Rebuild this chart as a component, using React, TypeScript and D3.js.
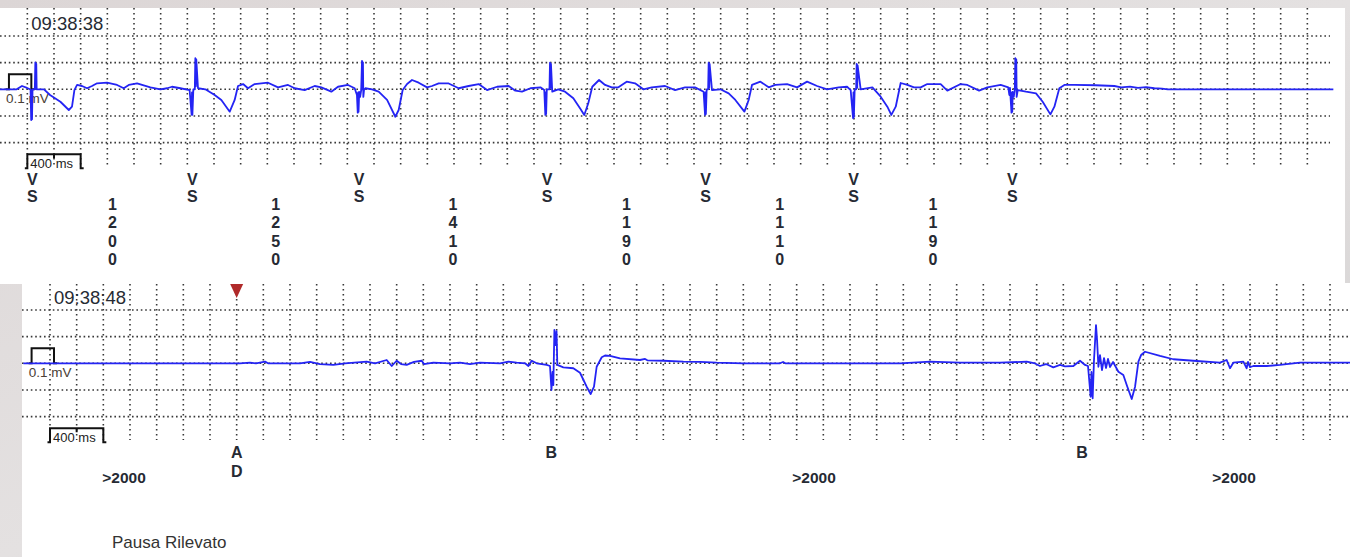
import React from 'react';
import * as d3 from 'd3';

const W = 1350;
const H = 557;

// ---- Top strip: ventricular sensed beats and their RR intervals (ms) ----
const topStamp = '09:38:38';
const firstBeatMs = 260;
const rrIntervals = [1200, 1250, 1410, 1190, 1110, 1190];
const beatMarker = 'VS';

// Each beat: [ms relative to the beat, mV]
const beat1: [number, number][] = [
  [-265, 0], [-140, 0], [-100, 0.022], [-62, 0.009], [-40, 0], [-36, 0], [-31, -0.205], [-28, -0.01],
  [-25, -0.2], [-21, 0], [-4, 0], [0, 0.18], [4, 0.01], [7, 0.17], [10, 0], [65, 0], [110, -0.038],
  [188, -0.083], [251, -0.138], [275, -0.116], [293, -0.005], [313, 0.029], [350, 0.022], [388, 0.007],
  [425, 0.022], [463, 0.04], [538, 0.044], [613, 0.029], [663, 0.007], [701, 0.029], [763, 0.04],
  [863, 0.013], [938, 0], [988, 0.007], [1025, 0.017], [1088, 0.007],
];
const beat2: [number, number][] = [
  [-43, -0.005], [-28, -0.17], [-25, -0.02], [-22, -0.17], [-15, 0], [-4, 0], [0, 0.207], [4, 0.02],
  [7, 0.2], [20, 0.007], [75, 0], [145, -0.038], [195, -0.071], [258, -0.149], [295, -0.071],
  [320, 0.022], [358, 0.035], [395, 0.007], [445, 0.035], [545, 0.044], [620, 0.013], [695, 0.029],
  [745, 0.007], [820, -0.005], [895, 0.022], [945, 0.013], [1020, -0.016], [1070, 0.017],
  [1145, 0.029], [1195, 0.007],
];
const beat3: [number, number][] = [
  [-38, -0.038], [-32, -0.156], [-29, -0.02], [-26, -0.15], [-21, -0.018], [-14, -0.051], [-6, -0.005],
  [0, 0.189], [4, 0.0], [7, 0.18], [10, -0.051], [15, -0.005], [25, 0.007], [75, 0], [125, -0.016],
  [188, -0.071], [250, -0.183], [275, -0.138], [305, -0.005], [338, 0.035], [375, 0.062], [425, 0.044],
  [488, 0.013], [525, 0.022], [575, 0.04], [650, 0.039], [725, 0.007], [800, 0.022], [875, 0.035],
  [938, -0.005], [1013, 0.017], [1100, 0.022], [1150, -0.009], [1200, -0.016], [1263, 0.007],
  [1338, 0.013],
];
const beat4: [number, number][] = [
  [-43, -0.005], [-35, -0.171], [-32, -0.02], [-29, -0.165], [-24, 0], [-4, 0], [0, 0.177], [4, 0.01],
  [7, 0.17], [17, -0.016], [62, 0], [113, -0.016], [175, -0.06], [225, -0.127], [257, -0.171],
  [287, -0.093], [317, 0.017], [368, 0.062], [413, 0.029], [463, 0.013], [513, 0.013], [575, 0.051],
  [638, 0.04], [700, 0], [763, 0.013], [863, 0.022], [938, -0.005], [1013, 0.013], [1088, 0.013],
];
const beat5: [number, number][] = [
  [-38, -0.016], [-27, -0.171], [-24, -0.02], [-21, -0.165], [-15, 0], [-4, 0], [0, 0.177], [4, 0.01],
  [7, 0.17], [25, -0.005], [88, 0], [150, -0.027], [200, -0.071], [268, -0.149], [300, -0.071],
  [325, 0.029], [388, 0.051], [450, 0.013], [500, 0.029], [588, 0.035], [663, 0.013], [738, 0.051],
  [813, 0.022], [888, 0], [975, 0.013], [1038, 0.017],
];
const beat6: [number, number][] = [
  [-45, -0.005], [-27, -0.193], [-24, -0.02], [-21, -0.185], [-15, 0], [-4, 0], [0, 0.169], [4, 0.01],
  [7, 0.16], [30, 0], [118, 0.013], [180, -0.049], [230, -0.116], [260, -0.171], [293, -0.116],
  [330, 0.042], [380, 0.029], [430, 0.013], [480, 0.013], [530, 0.035], [630, 0.035], [680, -0.009],
  [780, 0.035], [830, 0.029], [918, -0.009], [980, 0.013], [1080, 0.029],
];
const beat7: [number, number][] = [
  [-53, 0.013], [-45, -0.038], [-40, 0.009], [-29, -0.156], [-26, -0.02], [-23, -0.15], [-20, -0.018],
  [-12, -0.051], [-4, 0], [0, 0.207], [4, 0.01], [7, 0.2], [10, -0.051], [18, -0.005], [80, -0.016],
  [155, -0.027], [205, -0.083], [263, -0.167], [293, -0.116], [330, 0.007], [368, 0.029], [443, 0.029],
  [600, 0.027], [743, 0.022], [793, 0.013], [860, 0.018], [920, 0.01], [980, 0.014], [1043, 0.007],
  [1100, 0.004], [1143, 0], [2385, 0],
];
const beatTraces = [beat1, beat2, beat3, beat4, beat5, beat6, beat7];

// ---- Bottom strip: pause episode ----
const bottomStamp = '09:38:48';
const bottomTrace: [number, number][] = [
  [0, 0], [1625, 0], [1700, 0.004], [1745, 0], [1813, 0.011], [1835, 0], [2075, 0], [2150, 0.009],
  [2225, -0.005], [2325, -0.011], [2413, 0], [2575, 0.011], [2638, 0], [2725, 0.022], [2763, -0.018],
  [2800, 0.017], [2833, -0.005], [2875, -0.011], [2930, 0.009], [2988, 0.017], [3005, -0.005],
  [3075, 0.004], [3200, 0], [3275, 0.004], [3350, -0.005], [3425, 0.004], [3575, 0], [3638, 0.011],
  [3700, 0.004], [3763, 0], [3788, -0.018], [3813, 0.017], [3850, 0], [3925, -0.011], [3950, -0.018],
  [3961, -0.178], [3969, -0.058], [3975, -0.145], [3983, 0.222], [3992, 0.122], [3999, 0.215],
  [4005, -0.011], [4050, -0.027], [4125, -0.033], [4175, -0.063], [4225, -0.156], [4255, -0.205],
  [4280, -0.156], [4300, -0.023], [4338, 0.04], [4363, 0.052], [4400, 0.049], [4475, 0.033],
  [4625, 0.022], [4663, 0.029], [4680, 0.02], [4800, 0.017], [4950, 0.011], [5075, 0.009],
  [5200, 0.004], [5400, 0], [5675, 0], [5698, 0.009], [5715, 0], [6575, 0], [6800, 0.011],
  [7025, 0.005], [7325, 0.004], [7525, 0.011], [7588, -0.001], [7625, -0.018], [7670, -0.005],
  [7725, -0.027], [7775, -0.011], [7813, -0.021], [7875, -0.018], [7925, 0.017], [7963, -0.011],
  [7985, -0.018], [8005, -0.223], [8011, -0.058], [8020, -0.233], [8030, 0.022], [8045, 0.255],
  [8053, 0.155], [8063, -0.023], [8075, 0.055], [8090, -0.045], [8105, 0.035], [8120, -0.031],
  [8135, 0.029], [8150, -0.025], [8173, 0.009], [8213, -0.056], [8250, -0.078], [8278, -0.151],
  [8313, -0.238], [8338, -0.156], [8363, 0.011], [8383, 0.055], [8413, 0.077], [8525, 0.049],
  [8625, 0.027], [8775, 0.017], [8975, 0.004], [9025, 0.022], [9050, -0.033], [9075, 0.004],
  [9150, 0.011], [9175, -0.033], [9185, 0.009], [9200, -0.025], [9225, -0.018], [9325, -0.018],
  [9425, -0.011], [9575, 0.004], [9950, 0.004],
];
const eventTimes = [1600, 3960, 7940];
const eventLabels = ['AD', 'B', 'B'];
const flaggedEvent = 1600;
const pauseTimes = [755, 5930, 9080];
const pauseLabel = '>2000';
const footer = 'Pausa Rilevato';

// ---- Recording settings ----
const calibrationMv = 0.1;
const calibrationStartMs = 62;
const calibrationWidthMs = 168;
const scaleBarStartMs = 200;
const scaleBarMs = 400;
const gridStepMs = 200;
const gridTimes = d3.range(200, 9801, gridStepMs);

const MS_PER_PX = 7.5;
const PX_PER_MV = 150;
const FONT = "'Liberation Sans', Arial, Helvetica, sans-serif";
const TRACE = '#2424f4';
const DOT = '#383838';
const TEXT = '#262a33';

type Cfg = {
  x: d3.ScaleLinear<number, number>;
  y: d3.ScaleLinear<number, number>;
  vTop: number;
  vBottom: number;
  hLeft: number;
  hRight: number;
  stamp: string;
};

function makeX(origin: number) {
  return d3.scaleLinear().domain([0, 10000]).range([origin, origin + 10000 / MS_PER_PX]);
}
function makeY(base: number) {
  return d3.scaleLinear().domain([-0.2, 0.2]).range([base + 0.2 * PX_PER_MV, base - 0.2 * PX_PER_MV]);
}

function StripFrame({ x, y, vTop, vBottom, hLeft, hRight, stamp }: Cfg) {
  const base = y(0);
  const gridPx = x(gridStepMs) - x(0);
  const hLines = [-2, -1, 0, 1, 2].map((k) => base + k * gridPx);
  const c0 = x(calibrationStartMs);
  const c1 = x(calibrationStartMs + calibrationWidthMs);
  const cy = y(calibrationMv);
  const b0 = x(scaleBarStartMs);
  const b1 = x(scaleBarStartMs + scaleBarMs);
  const bm = x(scaleBarStartMs + scaleBarMs / 2);
  const barTop = base + 65;
  const barBottom = base + 79;
  return (
    <g>
      {gridTimes.map((t) => (
        <line key={'v' + t} x1={x(t)} x2={x(t)} y1={vTop} y2={vBottom}
          stroke={DOT} strokeWidth={1.6} strokeDasharray="1.6 3.4" />
      ))}
      {hLines.map((hy, i) => (
        <line key={'h' + i} x1={hLeft} x2={hRight} y1={hy} y2={hy}
          stroke={DOT} strokeWidth={1.6} strokeDasharray="1.6 2.8" />
      ))}
      <text x={x(scaleBarStartMs) + 4} y={base - 59} fontFamily={FONT} fontSize={18.5} fill={TEXT}>{stamp}</text>
      <path d={`M${c0 - 3},${base} H${c0} V${cy} H${c1} V${base} H${c1 + 3}`}
        fill="none" stroke="#111" strokeWidth={2} />
      <text x={x(40)} y={base + 14} fontFamily={FONT} fontSize={13.5} fill="#4a3e36">0.1 mV</text>
      <path d={`M${b0 - 2.5},${barBottom} H${b0} V${barTop} H${b1} V${barBottom} H${b1 + 3} M${bm},${barTop} V${barTop + 4}`}
        fill="none" stroke="#111" strokeWidth={2} />
      <text x={b0 + 3} y={base + 78.5} fontFamily={FONT} fontSize={13} fill="#222">{scaleBarMs} ms</text>
    </g>
  );
}

function Stacked({ text, x, y, lh, size = 16 }: { text: string; x: number; y: number; lh: number; size?: number }) {
  return (
    <g>
      {text.split('').map((c, i) => (
        <text key={i} x={x} y={y + i * lh} textAnchor="middle" fontFamily={FONT}
          fontWeight="bold" fontSize={size} fill={TEXT}>{c}</text>
      ))}
    </g>
  );
}

export default function App() {
  const xTop = makeX(0.67);
  const yTop = makeY(89.3);
  const xBot = makeX(23.33);
  const yBot = makeY(363.3);

  const beatTimes = rrIntervals.reduce<number[]>((acc, rr) => [...acc, acc[acc.length - 1] + rr], [firstBeatMs]);

  const topPoints: [number, number][] = [];
  beatTraces.forEach((pts, i) => {
    pts.forEach(([dt, v]) => topPoints.push([beatTimes[i] + dt, v]));
  });

  const topLine = d3.line<[number, number]>().x((d) => xTop(d[0])).y((d) => yTop(d[1]));
  const botLine = d3.line<[number, number]>().x((d) => xBot(d[0])).y((d) => yBot(d[1]));

  const labelDx = -3;

  return (
    <svg width={W} height={H} viewBox={`0 0 ${W} ${H}`}
      style={{ position: 'absolute', left: 0, top: 0, display: 'block' }}>
      <defs>
        <linearGradient id="edge" x1="0" y1="0" x2="1" y2="1">
          <stop offset="0" stopColor="#dcd6d6" />
          <stop offset="0.5" stopColor="#e4e1e1" />
          <stop offset="1" stopColor="#d2d0d0" />
        </linearGradient>
      </defs>
      <rect width={W} height={H} fill="url(#edge)" />
      <rect x={0} y={8} width={1345} height={276} fill="#ffffff" />
      <rect x={22} y={283} width={W - 22} height={H - 283} fill="#ffffff" />

      {/* top strip */}
      <StripFrame x={xTop} y={yTop} vTop={8} vBottom={165} hLeft={0} hRight={1330} stamp={topStamp} />
      <path d={topLine(topPoints) ?? ''} fill="none" stroke={TRACE} strokeWidth={1.8} strokeLinejoin="round" />
      {beatTimes.map((t, i) => (
        <Stacked key={'vs' + i} text={beatMarker} x={xTop(t) + labelDx} y={184.5} lh={17.5} />
      ))}
      {rrIntervals.map((rr, i) => (
        <Stacked key={'rr' + i} text={String(rr)} x={xTop((beatTimes[i] + beatTimes[i + 1]) / 2) + labelDx}
          y={210} lh={18.3} />
      ))}

      {/* bottom strip */}
      <StripFrame x={xBot} y={yBot} vTop={284} vBottom={440} hLeft={22} hRight={W} stamp={bottomStamp} />
      <path d={botLine(bottomTrace) ?? ''} fill="none" stroke={TRACE} strokeWidth={1.8} strokeLinejoin="round" />
      <path d={`M${xBot(flaggedEvent) - 6.5},284 H${xBot(flaggedEvent) + 6.5} L${xBot(flaggedEvent)},298 Z`} fill="#b02a2a" />
      {eventTimes.map((t, i) => (
        <Stacked key={'ev' + i} text={eventLabels[i]} x={xBot(t)} y={458.3} lh={18.4} />
      ))}
      {pauseTimes.map((t, i) => (
        <text key={'p' + i} x={xBot(t)} y={483.3} textAnchor="middle" fontFamily={FONT}
          fontWeight="bold" fontSize={15.5} fill={TEXT}>{pauseLabel}</text>
      ))}
      <text x={112} y={547.5} fontFamily={FONT} fontSize={17} fill="#333">{footer}</text>
    </svg>
  );
}
